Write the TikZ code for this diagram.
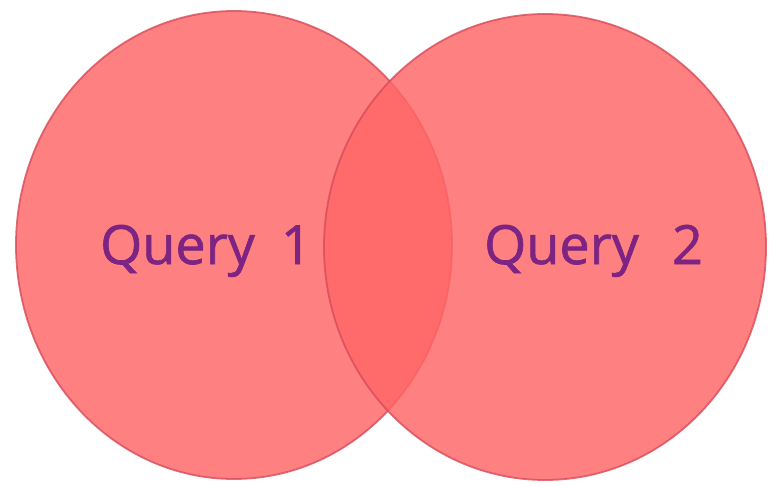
\documentclass[tikz,border=0pt]{standalone}
\usepackage{fontspec}
\usetikzlibrary{shapes.geometric}
\setmainfont{Open Sans}
\newfontfamily\qfont[FakeBold=1.2]{Open Sans}
\definecolor{vfill}{RGB}{255,103,103}
\definecolor{vedge}{RGB}{215,75,90}
\definecolor{vtext}{RGB}{125,35,130}
\begin{document}
\begin{tikzpicture}[x=1pt,y=-1pt,
  setq/.style={ellipse,inner sep=0pt,fill=vfill,fill opacity=0.83,draw=vedge,draw opacity=0.8,line width=1.8pt},
  lbl/.style={text=vtext,font=\qfont\fontsize{54}{60}\selectfont,inner sep=0pt,anchor=base west}]
\useasboundingbox (0,0) rectangle (770,486);
\fill[white] (0,0) rectangle (770,486);
\node[setq,minimum width=436pt,minimum height=468pt] (s1) at (234,245) {};
\node[setq,minimum width=442pt,minimum height=466pt] (s2) at (545,247) {};
\node[lbl] (q1) at (100,264) {Query\hspace{26pt}1};
\node[lbl] (q2) at (484,264) {Query\hspace{33pt}2};
\end{tikzpicture}
\end{document}
